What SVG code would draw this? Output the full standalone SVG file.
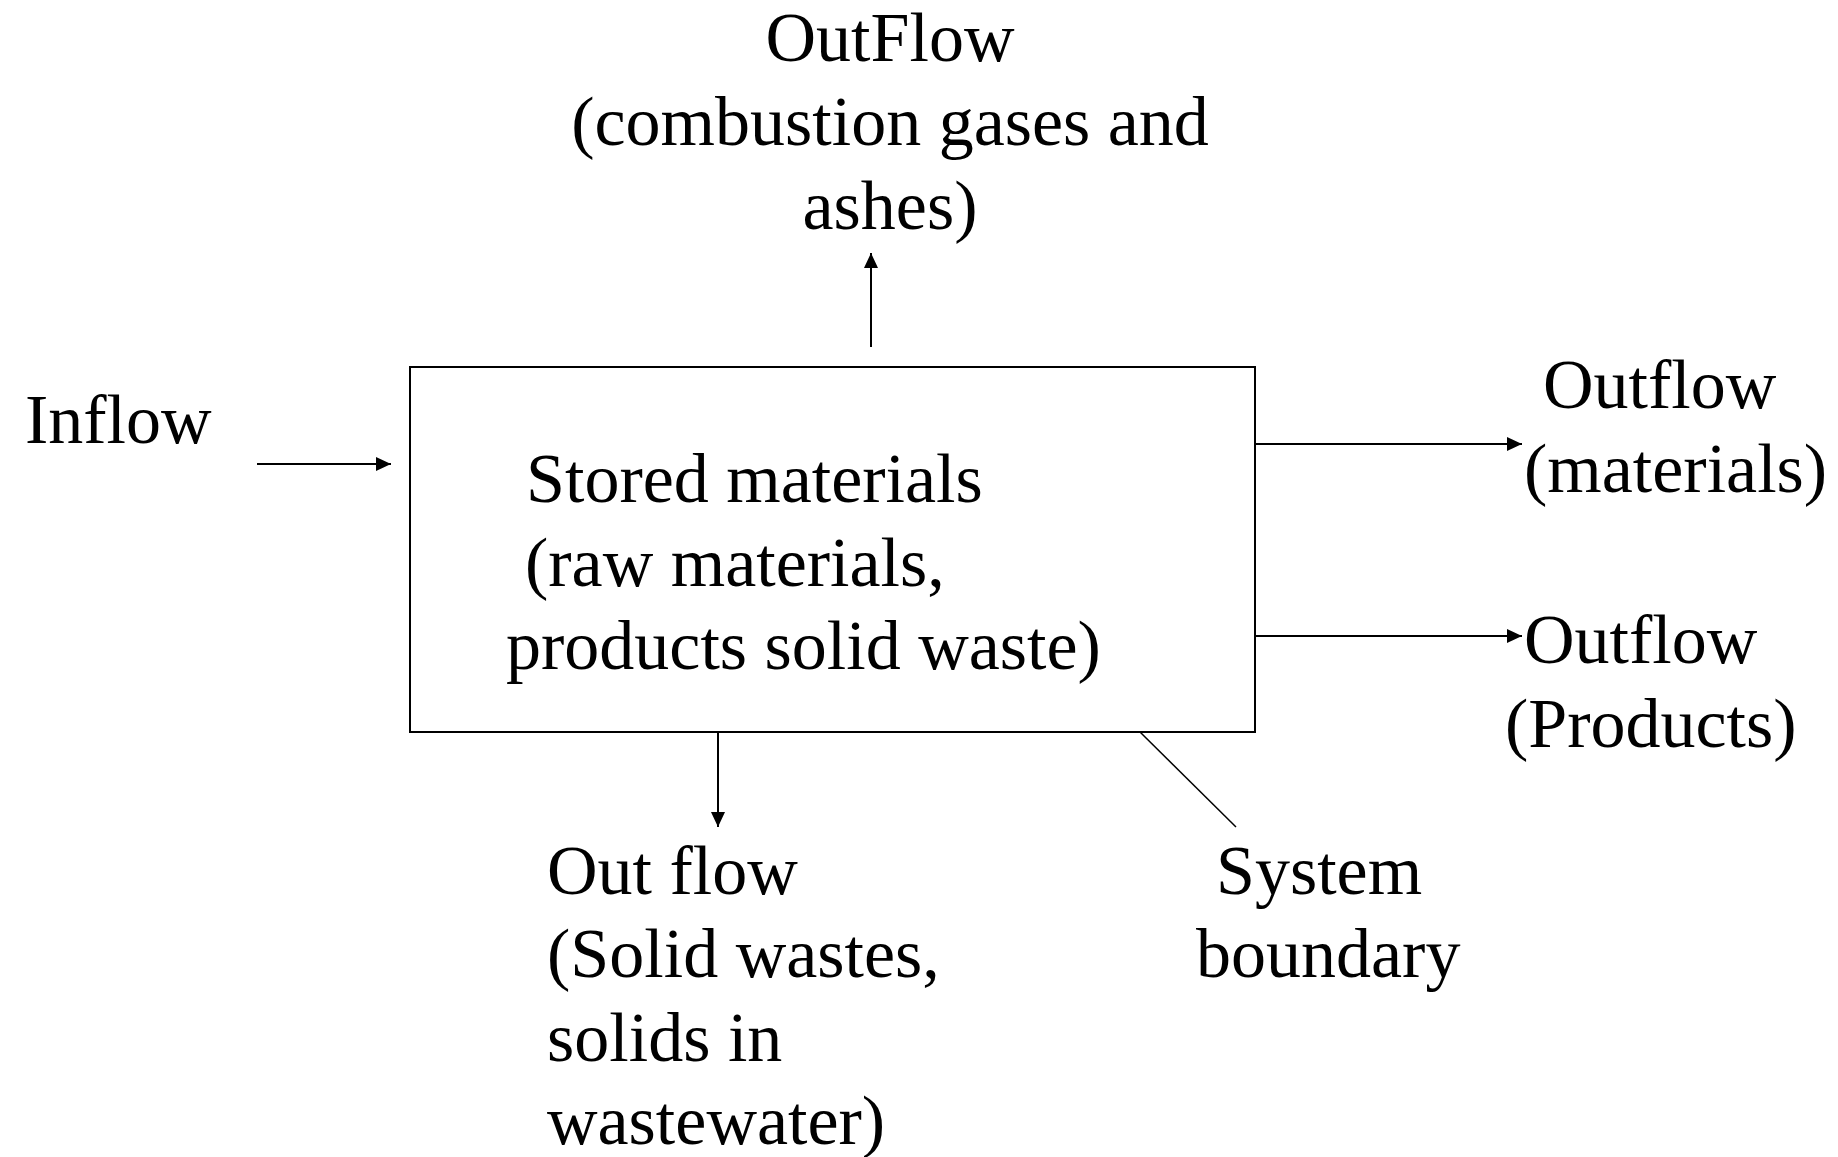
<svg xmlns="http://www.w3.org/2000/svg" width="1838" height="1157" viewBox="0 0 1838 1157">
<style>
text{font-family:"Liberation Serif","Times New Roman",serif;font-size:70px;fill:#000}
.c{text-anchor:middle}
.ln{stroke:#000;stroke-width:2;fill:none}
.thin{stroke:#000;stroke-width:1.5;fill:none}
</style>
<defs>
<marker id="ah" markerUnits="userSpaceOnUse" markerWidth="15" markerHeight="14" refX="15" refY="7" orient="auto">
<path d="M0,0 L15,7 L0,14 z" fill="#000"/>
</marker>
</defs>
<rect width="1838" height="1157" fill="#fff"/>
<g id="connectors">
<line class="ln" x1="871" y1="347" x2="871" y2="253" marker-end="url(#ah)"/>
<line class="ln" x1="257" y1="464" x2="391" y2="464" marker-end="url(#ah)"/>
<line class="ln" x1="1255" y1="444" x2="1522" y2="444" marker-end="url(#ah)"/>
<line class="ln" x1="1255" y1="636" x2="1522" y2="636" marker-end="url(#ah)"/>
<line class="ln" x1="718" y1="732" x2="718" y2="827" marker-end="url(#ah)"/>
<line class="thin" x1="1140" y1="732" x2="1236" y2="827"/>
</g>
<g id="system">
<rect class="ln" x="410" y="367" width="845" height="365"/>
<text x="526" y="502">Stored materials</text>
<text x="525" y="586">(raw materials,</text>
<text x="506" y="669">products solid waste)</text>
</g>
<g id="outflow-top">
<text class="c" x="890" y="61">OutFlow</text>
<text class="c" x="890" y="145">(combustion gases and</text>
<text class="c" x="890" y="229">ashes)</text>
</g>
<g id="inflow">
<text x="25" y="443">Inflow</text>
</g>
<g id="outflow-materials">
<text x="1543" y="408">Outflow</text>
<text x="1524" y="492">(materials)</text>
</g>
<g id="outflow-products">
<text x="1524" y="663">Outflow</text>
<text x="1505" y="747">(Products)</text>
</g>
<g id="outflow-solid">
<text x="547" y="894">Out flow</text>
<text x="547" y="977">(Solid wastes,</text>
<text x="547" y="1061">solids in</text>
<text x="547" y="1144">wastewater)</text>
</g>
<g id="system-boundary">
<text x="1216" y="894">System</text>
<text x="1196" y="977">boundary</text>
</g>
</svg>
